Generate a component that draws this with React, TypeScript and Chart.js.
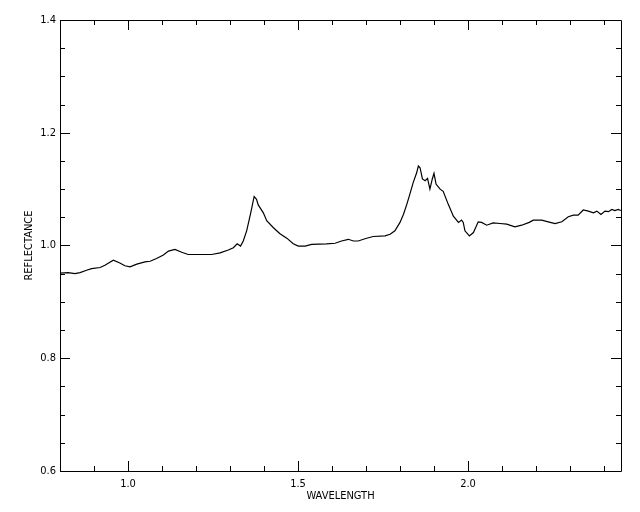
import React, { useEffect, useRef } from "react";
import { Chart, registerables } from "chart.js";

Chart.register(...registerables);

const wavelength = [
  0.8, 0.824, 0.844, 0.859, 0.878, 0.893, 0.918, 0.932, 0.957, 0.976, 0.991, 1.006, 1.026, 1.05,
  1.065, 1.084, 1.104, 1.119, 1.138, 1.158, 1.177, 1.212, 1.246, 1.271, 1.295, 1.31, 1.321, 1.331,
  1.339, 1.349, 1.361, 1.371, 1.378, 1.383, 1.398, 1.408, 1.427, 1.447, 1.467, 1.486, 1.501, 1.521,
  1.54, 1.584, 1.609, 1.628, 1.648, 1.663, 1.677, 1.697, 1.721, 1.756, 1.771, 1.785, 1.8, 1.81,
  1.82, 1.829, 1.839, 1.849, 1.854, 1.859, 1.866, 1.874, 1.881, 1.888, 1.895, 1.9, 1.906, 1.918,
  1.927, 1.942, 1.957, 1.972, 1.981, 1.986, 1.991, 2.004, 2.016, 2.03, 2.04, 2.055, 2.074, 2.094,
  2.114, 2.138, 2.158, 2.18, 2.192, 2.217, 2.236, 2.256, 2.276, 2.295, 2.31, 2.324, 2.339, 2.354,
  2.369, 2.379, 2.391, 2.403, 2.413, 2.423, 2.432, 2.442, 2.45,
];

const reflectance = [
  0.951, 0.952, 0.95, 0.952, 0.956, 0.959, 0.961, 0.965, 0.974, 0.969, 0.964, 0.962, 0.967, 0.971,
  0.972, 0.977, 0.983, 0.99, 0.993, 0.988, 0.984, 0.984, 0.984, 0.987, 0.992, 0.996, 1.003, 0.999,
  1.008, 1.026, 1.058, 1.087, 1.082, 1.072, 1.058, 1.044, 1.032, 1.021, 1.013, 1.003, 0.999, 0.999,
  1.002, 1.003, 1.004, 1.008, 1.011, 1.008, 1.008, 1.012, 1.016, 1.017, 1.02, 1.026, 1.041, 1.055,
  1.073, 1.091, 1.112, 1.129, 1.141, 1.138, 1.118, 1.115, 1.119, 1.1, 1.118, 1.128, 1.109, 1.1,
  1.096, 1.073, 1.052, 1.041, 1.045, 1.041, 1.026, 1.017, 1.023, 1.042, 1.041, 1.036, 1.04, 1.039,
  1.038, 1.033, 1.036, 1.041, 1.045, 1.045, 1.042, 1.039, 1.042, 1.051, 1.054, 1.054, 1.063, 1.061,
  1.058, 1.061, 1.055, 1.061, 1.06, 1.064, 1.062, 1.064, 1.062,
];

const xTickLabels = [1.0, 1.5, 2.0];
const yTickLabels = [0.6, 0.8, 1.0, 1.2, 1.4];
const xRange = [0.8, 2.45];
const yRange = [0.6, 1.4];
const xMinorStep = 0.1;
const yMinorStep = 0.05;

const FONT = "'Liberation Sans Narrow', 'DejaVu Sans Condensed', 'Liberation Sans', sans-serif";

const frameTicks = {
  id: "frameTicks",
  afterDraw(chart: any) {
    const { ctx, chartArea: a, scales } = chart;
    const xs = scales.x;
    const ys = scales.y;
    ctx.save();
    ctx.strokeStyle = "#000";
    ctx.lineWidth = 1;
    ctx.beginPath();
    ctx.rect(Math.round(a.left) + 0.5, Math.round(a.top) + 0.5, Math.round(a.right - a.left), Math.round(a.bottom - a.top));
    ctx.stroke();
    const isMajor = (v: number, list: number[]) => list.some((m) => Math.abs(m - v) < 1e-6);
    ctx.beginPath();
    const nx = Math.round((xRange[1] - xRange[0]) / xMinorStep);
    for (let i = 0; i <= nx + 1; i++) {
      const v = Math.round((Math.ceil(xRange[0] / xMinorStep) + i) * xMinorStep * 1000) / 1000;
      if (v <= xRange[0] + 1e-6 || v >= xRange[1] - 1e-6) continue;
      const px = Math.round(xs.getPixelForValue(v)) + 0.5;
      const len = isMajor(v, xTickLabels) ? 10 : 5;
      ctx.moveTo(px, a.bottom);
      ctx.lineTo(px, a.bottom - len);
      ctx.moveTo(px, a.top);
      ctx.lineTo(px, a.top + len);
    }
    const ny = Math.round((yRange[1] - yRange[0]) / yMinorStep);
    for (let i = 0; i <= ny; i++) {
      const v = Math.round((yRange[0] + i * yMinorStep) * 1000) / 1000;
      const py = Math.round(ys.getPixelForValue(v)) + 0.5;
      const len = isMajor(v, yTickLabels) ? 10 : 5;
      ctx.moveTo(a.left, py);
      ctx.lineTo(a.left + len, py);
      ctx.moveTo(a.right, py);
      ctx.lineTo(a.right - len, py);
    }
    ctx.stroke();
    ctx.restore();
  },
};

export default function App() {
  const ref = useRef<HTMLCanvasElement | null>(null);
  useEffect(() => {
    if (!ref.current) return;
    const chart = new Chart(ref.current, {
      type: "line",
      data: {
        datasets: [
          {
            data: wavelength.map((w, i) => ({ x: w, y: reflectance[i] })),
            borderColor: "#000",
            borderWidth: 1.2,
            pointRadius: 0,
            tension: 0,
            fill: false,
          },
        ],
      },
      options: {
        animation: false,
        responsive: false,
        maintainAspectRatio: false,
        layout: { padding: { top: 20, right: 19, left: 0, bottom: 0 } },
        plugins: { legend: { display: false }, tooltip: { enabled: false } },
        scales: {
          x: {
            type: "linear",
            min: xRange[0],
            max: xRange[1],
            afterBuildTicks: (s: any) => {
              s.ticks = xTickLabels.map((v) => ({ value: v }));
            },
            afterFit: (s: any) => {
              s.height = 41;
            },
            grid: { display: false, drawTicks: false },
            border: { display: false },
            ticks: {
              padding: 7,
              color: "#000",
              font: { family: FONT, size: 11 },
              callback: (v: any) => Number(v).toFixed(1),
              maxRotation: 0,
            },
            title: {
              display: true,
              text: "WAVELENGTH",
              color: "#000",
              font: { family: FONT, size: 11 },
              padding: { top: 0, bottom: 9 },
            },
          },
          y: {
            type: "linear",
            min: yRange[0],
            max: yRange[1],
            afterBuildTicks: (s: any) => {
              s.ticks = yTickLabels.map((v) => ({ value: v }));
            },
            afterFit: (s: any) => {
              s.width = 60;
            },
            grid: { display: false, drawTicks: false },
            border: { display: false },
            ticks: {
              padding: 4,
              color: "#000",
              font: { family: FONT, size: 11 },
              callback: (v: any) => Number(v).toFixed(1),
            },
            title: {
              display: true,
              text: "REFLECTANCE",
              color: "#000",
              font: { family: FONT, size: 11 },
              padding: { top: 23, bottom: 0 },
            },
          },
        },
      },
      plugins: [frameTicks],
    });
    return () => chart.destroy();
  }, []);
  return (
    <div style={{ position: "fixed", left: 0, top: 0, width: 640, height: 512, background: "#fff" }}>
      <canvas ref={ref} width={640} height={512} style={{ display: "block" }} />
    </div>
  );
}
